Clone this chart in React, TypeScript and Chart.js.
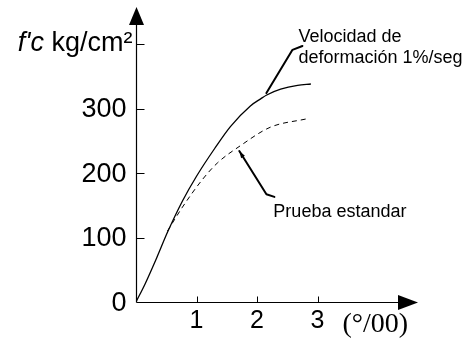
import React, { useEffect, useRef } from 'react';
import { Chart, registerables } from 'chart.js';

Chart.register(...registerables);

// strain (°/00) and stress (kg/cm²) for the two curves
const strainFast = [0, 0.15, 0.34, 0.52, 0.77, 1.0, 1.3, 1.56, 1.89, 2.06, 2.16, 2.39, 2.67, 2.89];
const stressFast = [0, 28, 68, 108, 157, 195, 238, 272, 304, 315, 321, 330, 336, 338];
const strainStd = [0.52, 0.76, 1.09, 1.35, 1.72, 2.22, 2.82];
const stressStd = [110, 146, 189, 216, 242, 271, 284];

const xTicks = [1, 2, 3];
const yTicks = [0, 100, 200, 300, 400];
const yTickLabels = ['0', '100', '200', '300', ''];

const yTitleItalic = "f'c";
const yTitleRest = ' kg/cm²';
const xTitle = '(°/00)';

const labelFast = ['Velocidad de', 'deformación 1%/seg'];
const labelFastAt = [2.685, 403]; // data coords (strain, stress)
const leaderFast = [[2.155, 324], [2.586, 391], [2.75, 397]];
const labelStd = 'Prueba estandar';
const labelStdAt = [2.27, 132];
const leaderStd = [[1.707, 234], [2.155, 167], [2.287, 163]];

const X_MAX = 4.66;
const Y_MAX = 457.4;
const SANS = "'Liberation Sans', Arial, sans-serif";
const SERIF = "'Liberation Serif', 'Times New Roman', serif";

const drawPlugin = {
  id: 'sketchAxes',
  afterDraw(chart: any) {
    const ctx = chart.ctx as CanvasRenderingContext2D;
    const xs = chart.scales.x;
    const ys = chart.scales.y;
    const area = chart.chartArea;
    const X = (v: number) => xs.getPixelForValue(v);
    const Y = (v: number) => ys.getPixelForValue(v);
    const ox = Math.round(X(0)) + 0.5;
    const oy = Math.round(Y(0)) + 0.5;
    ctx.save();
    ctx.strokeStyle = '#000';
    ctx.fillStyle = '#000';
    ctx.lineWidth = 1.2;
    // axis lines
    const yTip = area.top;
    const xTip = area.right;
    ctx.beginPath();
    ctx.moveTo(ox, oy);
    ctx.lineTo(ox, yTip + 16);
    ctx.moveTo(ox, oy);
    ctx.lineTo(xTip - 18, oy);
    ctx.stroke();
    // arrowheads
    ctx.beginPath();
    ctx.moveTo(ox, yTip);
    ctx.lineTo(ox - 7.5, yTip + 18);
    ctx.lineTo(ox + 7.5, yTip + 18);
    ctx.closePath();
    ctx.fill();
    ctx.beginPath();
    ctx.moveTo(xTip, oy);
    ctx.lineTo(xTip - 20, oy - 7.5);
    ctx.lineTo(xTip - 20, oy + 7.5);
    ctx.closePath();
    ctx.fill();
    // tick marks (inside)
    ctx.lineWidth = 1;
    ctx.beginPath();
    ys.ticks.forEach((t: any) => {
      if (t.value === 0) return;
      const py = Math.round(Y(t.value)) + 0.5;
      ctx.moveTo(ox, py);
      ctx.lineTo(ox + 8, py);
    });
    xs.ticks.forEach((t: any) => {
      const px = Math.round(X(t.value)) + 0.5;
      ctx.moveTo(px, oy);
      ctx.lineTo(px, oy - 6);
    });
    ctx.stroke();

    // tick labels
    ctx.font = `27px ${SANS}`;
    ctx.textAlign = 'right';
    ctx.textBaseline = 'middle';
    ys.ticks.forEach((t: any) => {
      const i = yTicks.indexOf(t.value);
      const lab = i >= 0 ? yTickLabels[i] : '';
      if (lab) ctx.fillText(lab, ox - 10, Y(t.value) + 1.5);
    });
    ctx.font = `25px ${SANS}`;
    ctx.textAlign = 'center';
    ctx.textBaseline = 'alphabetic';
    xs.ticks.forEach((t: any) => {
      ctx.fillText(String(t.value), X(t.value), oy + 25);
    });

    // y title
    ctx.textAlign = 'left';
    ctx.font = `italic 27px ${SANS}`;
    const wI = ctx.measureText(yTitleItalic).width;
    ctx.font = `27px ${SANS}`;
    const wR = ctx.measureText(yTitleRest).width;
    const right = ox - 4;
    const by = Y(400) + 7;
    ctx.font = `italic 27px ${SANS}`;
    ctx.fillText(yTitleItalic, right - wR - wI, by);
    ctx.font = `27px ${SANS}`;
    ctx.fillText(yTitleRest, right - wR, by);

    // x title
    ctx.font = `28px ${SERIF}`;
    ctx.fillText(xTitle, X(3) + 25, oy + 29);

    // annotations
    ctx.font = `18px ${SANS}`;
    ctx.fillText(labelFast[0], X(labelFastAt[0]), Y(labelFastAt[1]));
    ctx.fillText(labelFast[1], X(labelFastAt[0]), Y(labelFastAt[1]) + 21);
    ctx.fillText(labelStd, X(labelStdAt[0]), Y(labelStdAt[1]));

    ctx.lineWidth = 2;
    ctx.lineJoin = 'round';
    ctx.lineCap = 'round';
    [leaderFast, leaderStd].forEach((pts) => {
      ctx.beginPath();
      pts.forEach(([a, b], i) => {
        if (i === 0) ctx.moveTo(X(a), Y(b));
        else ctx.lineTo(X(a), Y(b));
      });
      ctx.stroke();
    });
    // small arrow at start of the standard leader
    const [sa, sb] = leaderStd[0];
    const [ta, tb] = leaderStd[1];
    const p0x = X(sa), p0y = Y(sb), p1x = X(ta), p1y = Y(tb);
    const len = Math.hypot(p1x - p0x, p1y - p0y);
    const ux = (p1x - p0x) / len, uy = (p1y - p0y) / len;
    ctx.beginPath();
    ctx.moveTo(p0x, p0y);
    ctx.lineTo(p0x + ux * 7 - uy * 2.2, p0y + uy * 7 + ux * 2.2);
    ctx.lineTo(p0x + ux * 7 + uy * 2.2, p0y + uy * 7 - ux * 2.2);
    ctx.closePath();
    ctx.fill();
    ctx.restore();
  },
};

export default function App() {
  const ref = useRef<HTMLCanvasElement | null>(null);
  useEffect(() => {
    if (!ref.current) return;
    const chart = new Chart(ref.current, {
      type: 'scatter',
      data: {
        datasets: [
          {
            label: 'Velocidad de deformación 1%/seg',
            data: strainFast.map((x, i) => ({ x, y: stressFast[i] })),
            showLine: true,
            borderColor: '#000',
            borderWidth: 1.3,
            pointRadius: 0,
            cubicInterpolationMode: 'monotone',
          },
          {
            label: 'Prueba estandar',
            data: strainStd.map((x, i) => ({ x, y: stressStd[i] })),
            showLine: true,
            borderColor: '#000',
            borderWidth: 1,
            borderDash: [5, 4],
            pointRadius: 0,
            cubicInterpolationMode: 'monotone',
          },
        ],
      },
      options: {
        animation: false,
        responsive: false,
        devicePixelRatio: 1,
        layout: { padding: { top: 7, right: 50, bottom: 39, left: 136 } },
        plugins: { legend: { display: false }, tooltip: { enabled: false } },
        scales: {
          x: {
            type: 'linear',
            display: false,
            min: 0,
            max: X_MAX,
            afterBuildTicks: (s: any) => {
              s.ticks = xTicks.map((v) => ({ value: v }));
            },
          },
          y: {
            type: 'linear',
            display: false,
            min: 0,
            max: Y_MAX,
            afterBuildTicks: (s: any) => {
              s.ticks = yTicks.map((v) => ({ value: v }));
            },
          },
        },
      },
      plugins: [drawPlugin],
    } as any);
    return () => chart.destroy();
  }, []);
  return (
    <div style={{ position: 'fixed', left: 0, top: 0, width: 468, height: 341, background: '#fff' }}>
      <canvas ref={ref} width={468} height={341} style={{ display: 'block' }} />
    </div>
  );
}
